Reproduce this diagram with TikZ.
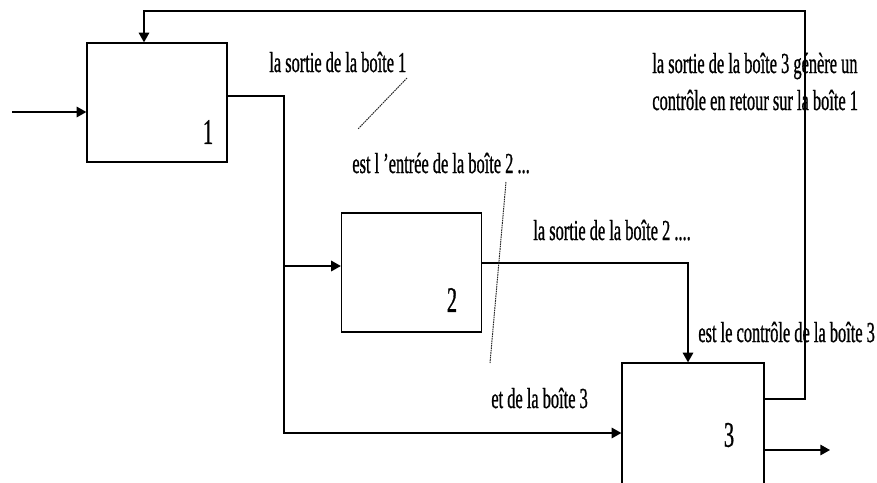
\documentclass[tikz,border=0pt]{standalone}
\usepackage{fontspec}
\setmainfont[FakeStretch=0.565,FakeBold=0.8]{Liberation Serif}
\usepackage{tikz}
\usetikzlibrary{arrows.meta,positioning,calc}

\begin{document}
\begin{tikzpicture}[x=0.2mm,y=-0.2mm,
    boite/.style={draw, line width=0.75pt, minimum width=28mm, minimum height=23.8mm},
    chiffre/.style={font=\fontsize{20.5}{24}\selectfont, inner sep=0pt},
    txt/.style={font=\fontsize{16.5}{20}\selectfont, inner sep=0pt, anchor=base west},
    fleche/.style={line width=0.75pt, -{Triangle[length=5.5pt,width=6pt]}},
    pointille/.style={dash pattern=on 0.9pt off 0.45pt, line width=0.55pt, black!85}]
\useasboundingbox (0,0) rectangle (877,482);

    % Boites
    \node[boite] (b1) at (157,102.5) {};
    \node[boite] (b2) at (411.5,272.5) {};
    \node[boite, minimum width=28.4mm, minimum height=24.2mm] (b3) at (693,423.5) {};

    % Numeros
    \node[chiffre] (n1) at (208,132) {1};
    \node[chiffre] (n2) at (452,300) {2};
    \node[chiffre] (n3) at (729,435) {3};

    % Textes
    \node[txt] (t1) at (269,72) {la sortie de la boîte 1};
    \node[txt] (t2) at (352,173) {est l 'entrée de la boîte 2 ...};
    \node[txt] (t3) at (533,240) {la sortie de la boîte 2 ....};
    \node[txt] (t4) at (491,408) {et de la boîte 3};
    \node[txt] (t5) at (698,342) {est le contrôle de la boîte 3};
    \node[txt] (t6) at (652,73) {la sortie de la boîte 3 génère un};
    \node[txt] (t7) at (652,110) {contrôle en retour sur la boîte 1};

    % Points de passage
    \coordinate (e1) at (12,112);
    \coordinate (c1) at (284,96);
    \coordinate (c2) at (688,263);
    \coordinate (c3) at (805,11);
    \coordinate (s3) at (830,450);

    % Connexions
    \draw[fleche] (e1) -- (e1 -| b1.west);
    \draw[fleche] (b1.east |- c1) -- (c1) |- (b3.west |- 0,433);
    \draw[fleche] (c1 |- 0,266) -- (b2.west |- 0,266);
    \draw[fleche] (b2.east |- c2) -- (c2) -- (c2 |- b3.north);
    \draw[fleche] (b3.east |- 0,399) -| (c3) -| (b1.north -| 144,0);
    \draw[fleche] (b3.east |- s3) -- (s3);

    % Renvois
    \draw[pointille] (407,78) -- (358,129);
    \draw[pointille] (506,182) -- (490,363);
\end{tikzpicture}
\end{document}
